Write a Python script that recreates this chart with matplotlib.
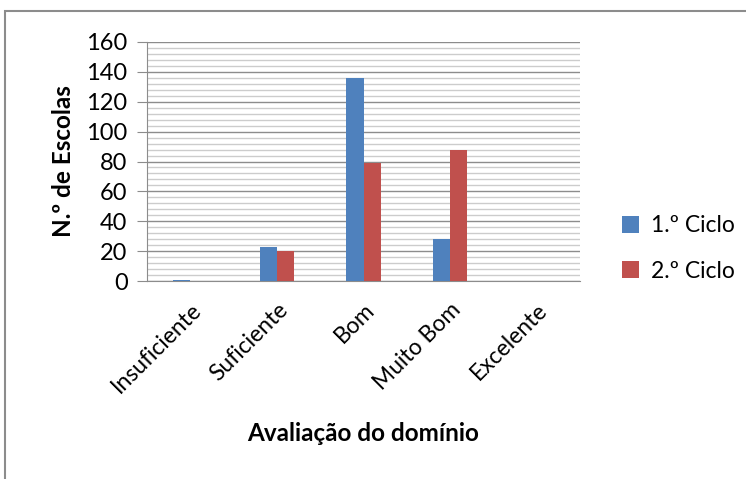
import matplotlib.pyplot as plt
from matplotlib.patches import Rectangle
from matplotlib.ticker import MultipleLocator
import numpy as np

plt.rcParams['font.family'] = ['Lato', 'DejaVu Sans']

categorias = ["Insuficiente", "Suficiente", "Bom", "Muito Bom", "Excelente"]
ciclo1 = [1, 23, 136, 28, 0]
ciclo2 = [0, 20, 79, 88, 0]
series_nomes = ["1.º Ciclo", "2.º Ciclo"]

fig = plt.figure(figsize=(7.46, 4.79), dpi=100)
# moldura cinzenta do grafico
fig.patches.append(Rectangle((5 / 746, -0.1), 1.0, 1 - 11 / 479 + 0.1,
                             transform=fig.transFigure, fill=False,
                             edgecolor="#8c8c8c", linewidth=1.5))

ax = fig.add_axes([147 / 746, 1 - 281 / 479, 433 / 746, 239 / 479])

x = np.arange(len(categorias))
w = 0.2
ax.bar(x - w / 2, ciclo1, w, color="#4f81bd", label=series_nomes[0], zorder=3)
ax.bar(x + w / 2, ciclo2, w, color="#c0504d", label=series_nomes[1], zorder=3)

ax.set_xlim(-0.5, len(categorias) - 0.5)
ax.set_ylim(0, 160)
ax.yaxis.set_major_locator(MultipleLocator(20))
ax.yaxis.set_minor_locator(MultipleLocator(4))
ax.grid(axis="y", which="major", color="#8c8c8c", linewidth=1.0, zorder=1)
ax.grid(axis="y", which="minor", color="#cccccc", linewidth=1.0, zorder=1)

for s in ["top", "right"]:
    ax.spines[s].set_visible(False)
for s in ["left", "bottom"]:
    ax.spines[s].set_color("#8c8c8c")

ax.tick_params(axis="y", which="major", length=7, color="#8c8c8c",
               labelsize=17, pad=7)
ax.tick_params(axis="y", which="minor", length=0)
ax.tick_params(axis="x", length=0, labelsize=16.5, pad=13)
ax.set_xticks(x)
ax.set_xticklabels(categorias, rotation=45, ha="right", rotation_mode="anchor")

ax.set_ylabel("N.º de Escolas", fontsize=17.5, fontweight="bold", labelpad=8)
ax.set_xlabel("Avaliação do domínio", fontsize=17.5, fontweight="bold", labelpad=18)

# legenda a direita, um pouco abaixo do meio
ax.legend(loc="center left", bbox_to_anchor=(1.0 + (622 - 580) / 433, 0.136),
          frameon=False, fontsize=16.5, handlelength=0.75, handleheight=0.75,
          labelspacing=1.05, handletextpad=0.5, borderaxespad=0, borderpad=0)

fig.savefig("out.png", dpi=100)
